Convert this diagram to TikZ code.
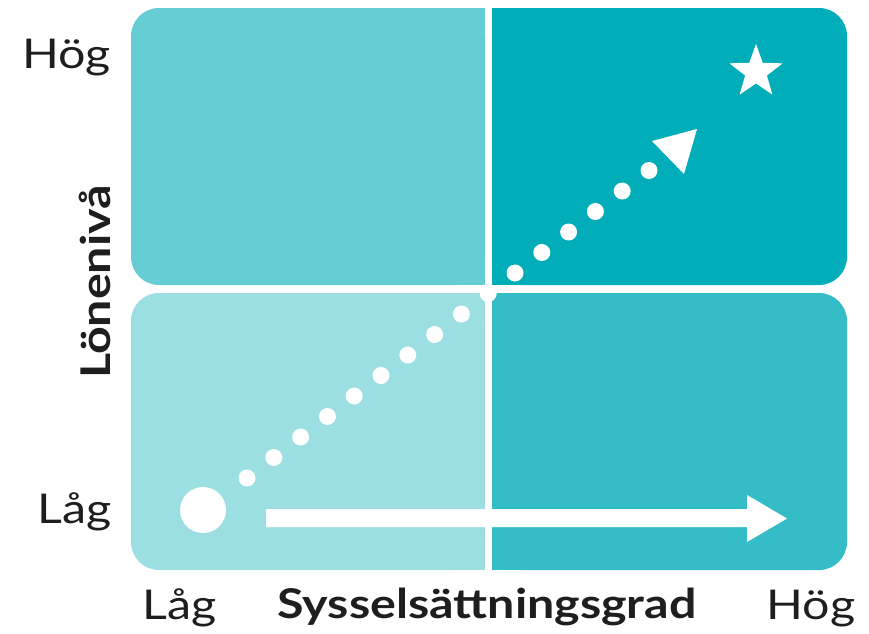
\documentclass[tikz,border=0pt]{standalone}
\usepackage{fontspec}
\setmainfont{Lato}
\newfontfamily\labelfont{Lato}[FakeStretch=1.18]
\usetikzlibrary{shapes.geometric}
\definecolor{qTL}{RGB}{103,205,212}
\definecolor{qTR}{RGB}{0,173,185}
\definecolor{qBL}{RGB}{156,223,227}
\definecolor{qBR}{RGB}{52,189,199}
\definecolor{txt}{RGB}{30,30,30}
\begin{document}
\begin{tikzpicture}[x=1pt,y=-1pt,
  lbl/.style={inner sep=0pt, text=txt, font=\labelfont\fontsize{41}{41}\selectfont},
  ttl/.style={inner sep=0pt, text=txt, font=\labelfont\fontsize{41}{41}\selectfont\bfseries},
  marker/.style={fill=white, draw=none}]
\useasboundingbox (0,0) rectangle (869,633);
% quadrants
\fill[qTL, rounded corners=28pt] (131,8) rectangle (485,285);
\fill[qTL] (300,8) rectangle (485,285);
\fill[qTR, rounded corners=28pt] (492,8) rectangle (847,285);
\fill[qTR] (492,8) rectangle (650,285);
\fill[qBL, rounded corners=28pt] (131,293) rectangle (485,570);
\fill[qBL] (300,293) rectangle (485,570);
\fill[qBR, rounded corners=28pt] (492,293) rectangle (847,570);
\fill[qBR] (492,293) rectangle (650,570);
% dotted path
\foreach \i in {0,...,15}
  \fill[marker] ({247+26.8*\i},{478-20.5*\i}) circle (8.5pt);
\fill[marker] (652,141) -- (697,129) -- (684,174) -- cycle;
% start and goal
\node[circle, marker, minimum size=46pt, inner sep=0pt] (start) at (203,510) {};
\node[star, star points=5, star point ratio=2.45, marker, minimum size=56pt, inner sep=0pt] (goal) at (756,72) {};
% horizontal arrow
\fill[marker] (266,509) -- (747,509) -- (747,495) -- (787,518.5) -- (747,542) -- (747,527) -- (266,527) -- cycle;
% labels
\node[lbl, anchor=base east] (yhog) at (111,68) {Hög};
\node[lbl, anchor=base east] (ylag) at (112,523) {Låg};
\node[ttl, anchor=base, rotate=90] (ytitle) at (110,282) {Lönenivå};
\node[lbl, anchor=base] (xlag) at (180,619) {Låg};
\node[ttl, anchor=base] (xtitle) at (487,618) {Sysselsättningsgrad};
\node[lbl, anchor=base] (xhog) at (811,619) {Hög};
\end{tikzpicture}
\end{document}
